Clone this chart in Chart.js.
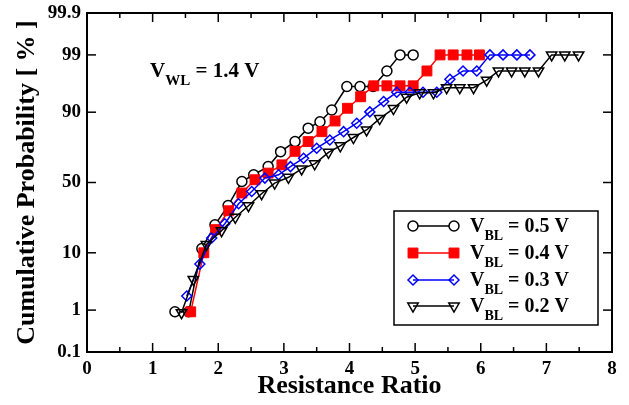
<!DOCTYPE html>
<html><head><meta charset="utf-8">
<script src="https://cdn.jsdelivr.net/npm/chart.js@4.4.1/dist/chart.umd.min.js"></script>
<style>html,body{margin:0;padding:0;background:#fff}</style>
</head><body>
<canvas id="c" width="629" height="405"></canvas>
<script>
// ---- data ----
const xTickValues = [0, 1, 2, 3, 4, 5, 6, 7, 8];
const probTicks = [0.1, 1, 10, 50, 90, 99, 99.9];
const seriesLabels = ['0.5 V', '0.4 V', '0.3 V', '0.2 V'];

const ratio05 = [1.34, 1.55, 1.75, 1.95, 2.15, 2.36, 2.54, 2.76, 2.95, 3.17, 3.37, 3.55, 3.73, 3.96, 4.16, 4.36, 4.57, 4.77, 4.97];
const prob05  = [0.92, 0.92, 11.4, 22, 33.7, 50.7, 55.6, 61.4, 71.3, 77.2, 83.9, 86.6, 90.7, 96, 96, 96, 97.9, 99, 99];

const ratio04 = [1.58, 1.78, 1.96, 2.16, 2.36, 2.56, 2.76, 2.97, 3.17, 3.37, 3.58, 3.78, 3.97, 4.17, 4.37, 4.57, 4.77, 4.97, 5.18, 5.38, 5.58, 5.79, 5.98];
const prob04  = [0.92, 10, 19.5, 30.3, 42.4, 52, 56.8, 62.6, 71.5, 77.2, 82.3, 86.9, 91.2, 94.1, 96.1, 96.1, 96.1, 96.1, 97.9, 99, 99, 99, 99];

const ratio03 = [1.52, 1.72, 1.90, 2.10, 2.31, 2.51, 2.71, 2.92, 3.10, 3.30, 3.50, 3.70, 3.91, 4.11, 4.31, 4.52, 4.72, 4.92, 5.12, 5.33, 5.53, 5.73, 5.94, 6.14, 6.34, 6.55, 6.75];
const prob03  = [1.93, 6.85, 15.6, 22.6, 34.9, 43.5, 53.2, 55.6, 61.4, 67.1, 73.4, 78.1, 82.3, 86, 90.1, 93, 95, 95, 95, 95, 97, 97.9, 97.9, 99, 99, 99, 99];

const ratio02 = [1.44, 1.62, 1.82, 2.05, 2.26, 2.46, 2.66, 2.86, 3.07, 3.27, 3.47, 3.68, 3.86, 4.06, 4.26, 4.46, 4.67, 4.87, 5.07, 5.28, 5.48, 5.68, 5.89, 6.09, 6.27, 6.47, 6.67, 6.88, 7.08, 7.28, 7.49];
const prob02  = [0.88, 3.85, 12.9, 19, 26.3, 33.6, 41.9, 49.6, 53.8, 59.8, 63.3, 70.9, 74.8, 79.4, 83.1, 87.8, 91.1, 94, 94.9, 94.9, 95.8, 95.8, 95.8, 96.9, 97.9, 97.9, 97.9, 97.9, 99, 99, 99];

// ---- normal probability helpers ----
function probit(p) {
  const a = [-3.969683028665376e+01, 2.209460984245205e+02, -2.759285104469687e+02, 1.383577518672690e+02, -3.066479806614716e+01, 2.506628277459239e+00];
  const b = [-5.447609879822406e+01, 1.615858368580409e+02, -1.556989798598866e+02, 6.680131188771972e+01, -1.328068155288572e+01];
  const c = [-7.784894002430293e-03, -3.223964580411365e-01, -2.400758277161838e+00, -2.549732539343734e+00, 4.374664141464968e+00, 2.938163982698783e+00];
  const d = [7.784695709041462e-03, 3.224671290700398e-01, 2.445134137142996e+00, 3.754408661907416e+00];
  const pl = 0.02425, ph = 1 - pl;
  let q, r;
  if (p < pl) { q = Math.sqrt(-2 * Math.log(p)); return (((((c[0]*q+c[1])*q+c[2])*q+c[3])*q+c[4])*q+c[5]) / ((((d[0]*q+d[1])*q+d[2])*q+d[3])*q+1); }
  if (p <= ph) { q = p - 0.5; r = q*q; return (((((a[0]*r+a[1])*r+a[2])*r+a[3])*r+a[4])*r+a[5])*q / (((((b[0]*r+b[1])*r+b[2])*r+b[3])*r+b[4])*r+1); }
  q = Math.sqrt(-2 * Math.log(1 - p));
  return -(((((c[0]*q+c[1])*q+c[2])*q+c[3])*q+c[4])*q+c[5]) / ((((d[0]*q+d[1])*q+d[2])*q+d[3])*q+1);
}
function normCdf(z) {
  const t = 1 / (1 + 0.2316419 * Math.abs(z));
  const dd = 0.3989423 * Math.exp(-z * z / 2);
  const pr = dd * t * (0.3193815 + t * (-0.3565638 + t * (1.781478 + t * (-1.821256 + t * 1.330274))));
  return z > 0 ? 1 - pr : pr;
}

class ProbitScale extends Chart.Scale {
  determineDataLimits() { this.min = probTicks[0]; this.max = probTicks[probTicks.length - 1]; }
  buildTicks() { return probTicks.map(v => ({ value: v })); }
  getLabelForValue(v) { return String(v); }
  configure() {
    super.configure();
    this._zMin = probit(this.min / 100);
    this._zMax = probit(this.max / 100);
  }
  getPixelForValue(v) {
    if (v === null || v === undefined || isNaN(v)) return NaN;
    return this.getPixelForDecimal((probit(v / 100) - this._zMin) / (this._zMax - this._zMin));
  }
  getValueForPixel(px) {
    const dec = this.getDecimalForPixel(px);
    return 100 * normCdf(this._zMin + dec * (this._zMax - this._zMin));
  }
}
ProbitScale.id = 'probit';
ProbitScale.defaults = {};
Chart.register(ProbitScale);

const toPts = (xs, ps) => xs.map((x, i) => ({ x: x, y: ps[i] }));
const SERIF = '"Liberation Serif", "Times New Roman", serif';

const datasets = [
  { label: seriesLabels[0], data: toPts(ratio05, prob05), borderColor: '#000', borderWidth: 1.5,
    pointStyle: 'circle', pointRadius: 5, pointBackgroundColor: '#fff', pointBorderColor: '#000', pointBorderWidth: 1.5, order: 4 },
  { label: seriesLabels[1], data: toPts(ratio04, prob04), borderColor: '#ff0000', borderWidth: 1.5,
    pointStyle: 'rect', pointRadius: 7, pointBackgroundColor: '#ff0000', pointBorderColor: '#ff0000', pointBorderWidth: 1, order: 3 },
  { label: seriesLabels[2], data: toPts(ratio03, prob03), borderColor: '#0000ff', borderWidth: 1.5,
    pointStyle: 'rectRot', pointRadius: 5, pointBackgroundColor: 'rgba(0,0,0,0)', pointBorderColor: '#0000ff', pointBorderWidth: 1.5, order: 2 },
  { label: seriesLabels[3], data: toPts(ratio02, prob02), borderColor: '#000', borderWidth: 1.5,
    pointStyle: 'triangle', pointRotation: 180, pointRadius: 6, pointBackgroundColor: 'rgba(0,0,0,0)', pointBorderColor: '#000', pointBorderWidth: 1.5, order: 1 }
];

function drawSubText(ctx, x, y, main, sub, rest, size) {
  ctx.textBaseline = 'alphabetic';
  ctx.textAlign = 'left';
  ctx.font = 'bold ' + size + 'px ' + SERIF;
  ctx.fillText(main, x, y);
  x += ctx.measureText(main).width;
  const subSize = Math.round(size * 0.7);
  ctx.font = 'bold ' + subSize + 'px ' + SERIF;
  ctx.fillText(sub, x, y + size * 0.38);
  x += ctx.measureText(sub).width;
  ctx.font = 'bold ' + size + 'px ' + SERIF;
  ctx.fillText(rest, x, y);
}

const decor = {
  id: 'decor',
  afterDatasetsDraw(chart) {
    const { ctx, chartArea: a, scales } = chart;
    const xs = scales.x, ys = scales.y;
    ctx.save();
    ctx.strokeStyle = '#000';
    ctx.lineWidth = 2;
    ctx.strokeRect(a.left, a.top, a.right - a.left, a.bottom - a.top);
    ctx.lineWidth = 1.5;
    const seg = (x1, y1, x2, y2) => { ctx.beginPath(); ctx.moveTo(x1, y1); ctx.lineTo(x2, y2); ctx.stroke(); };
    const xmin = xTickValues[0], xmax = xTickValues[xTickValues.length - 1];
    for (let k = 1; k < (xmax - xmin) * 2; k++) {
      const v = xmin + k * 0.5;
      const px = xs.getPixelForValue(v);
      const len = (k % 2 === 0) ? 9 : 5;
      seg(px, a.bottom, px, a.bottom - len);
      seg(px, a.top, px, a.top + len);
    }
    for (let i = 1; i < probTicks.length - 1; i++) {
      const py = ys.getPixelForValue(probTicks[i]);
      seg(a.left, py, a.left + 9, py);
      seg(a.right, py, a.right - 9, py);
    }
    // annotation
    ctx.fillStyle = '#000';
    drawSubText(ctx, 150, 77, 'V', 'WL', ' = 1.4 V', 21);

    // legend
    const bx = 394, by = 211, bw = 204, bh = 114;
    ctx.fillStyle = '#fff';
    ctx.fillRect(bx, by, bw, bh);
    ctx.lineWidth = 1.5;
    ctx.strokeStyle = '#000';
    ctx.strokeRect(bx, by, bw, bh);
    const rowY = [226, 253, 280, 306];
    chart.data.datasets.forEach((ds, i) => {
      const yy = rowY[i];
      ctx.strokeStyle = ds.borderColor;
      ctx.lineWidth = ds.borderWidth;
      seg(413, yy, 454, yy);
      [413, 454].forEach(px => {
        ctx.fillStyle = ds.pointBackgroundColor;
        ctx.strokeStyle = ds.pointBorderColor;
        ctx.lineWidth = ds.pointBorderWidth;
        Chart.helpers.drawPoint(ctx, { pointStyle: ds.pointStyle, radius: ds.pointRadius, rotation: ds.pointRotation || 0, borderWidth: ds.pointBorderWidth }, px, yy);
      });
      ctx.fillStyle = '#000';
      drawSubText(ctx, 470, yy + 6, 'V', 'BL', ' = ' + ds.label, 20);
    });
    ctx.restore();
  }
};

new Chart(document.getElementById('c'), {
  type: 'line',
  data: { datasets: datasets },
  options: {
    responsive: false,
    animation: false,
    devicePixelRatio: 1,
    layout: { padding: { left: 0, right: 17, top: 13, bottom: 0 } },
    plugins: { legend: { display: false }, tooltip: { enabled: false } },
    elements: { line: { tension: 0 } },
    scales: {
      x: {
        type: 'linear', min: xTickValues[0], max: xTickValues[xTickValues.length - 1],
        afterBuildTicks: s => { s.ticks = xTickValues.map(v => ({ value: v })); },
        afterFit: s => { s.height = 53; s.paddingLeft = 0; s.paddingRight = 0; },
        grid: { display: false, drawTicks: false },
        border: { display: false },
        ticks: { color: '#000', padding: 6, maxRotation: 0, font: { family: SERIF, size: 19, weight: 'bold' }, callback: v => String(v) },
        title: { display: true, text: 'Resistance Ratio', color: '#000', padding: { top: 0, bottom: 3 }, font: { family: SERIF, size: 26, weight: 'bold' } }
      },
      y: {
        type: 'probit', position: 'left',
        afterFit: s => { s.width = 87; s.paddingTop = 0; s.paddingBottom = 0; },
        grid: { display: false, drawTicks: false },
        border: { display: false },
        ticks: { color: '#000', padding: 6, font: { family: SERIF, size: 19, weight: 'bold' }, callback: v => String(v) },
        title: { display: true, text: 'Cumulative Probability [ % ]', color: '#000', padding: { top: 12, bottom: 0 }, font: { family: SERIF, size: 26, weight: 'bold' } }
      }
    }
  },
  plugins: [decor]
});
</script>
</body></html>
